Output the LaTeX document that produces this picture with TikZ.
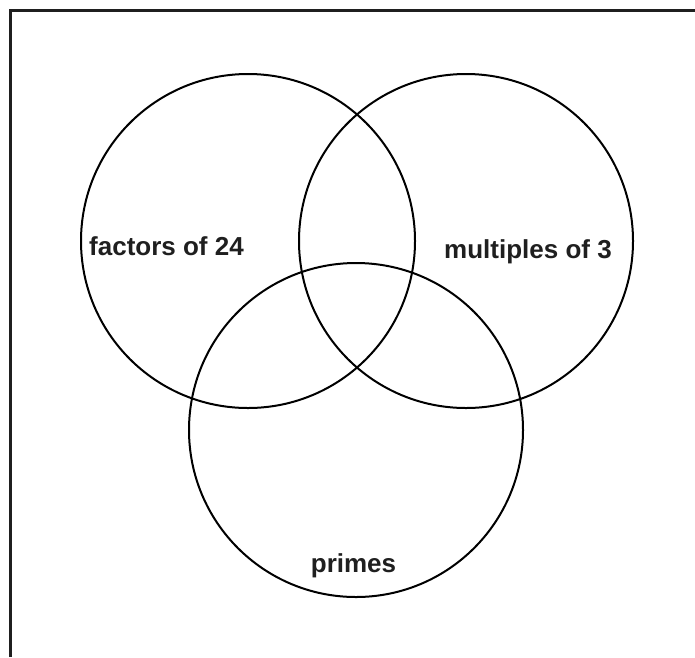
\documentclass[tikz,border=0pt]{standalone}
\usepackage{fontspec}
\setmainfont{Liberation Sans}
\begin{document}
\begin{tikzpicture}[x=1pt,y=-1pt,
  venn/.style={circle, draw=black, line width=2pt, minimum size=334pt, inner sep=0pt},
  lbl/.style={anchor=base, font=\fontsize{26}{30}\selectfont\bfseries, text=black!88, inner sep=0pt},
  frameline/.style={draw=black!88, line width=3pt}]
\useasboundingbox (0,0) rectangle (695,657);
\fill[white] (0,0) rectangle (695,657);
\coordinate (fbl) at (10.5,657);
\coordinate (ftl) at (10.5,10.5);
\coordinate (ftr) at (695,10.5);
\draw[frameline] (fbl) -- (ftl) -- (ftr);
\node[venn] (A) at (248,241) {};
\node[venn] (B) at (466,241) {};
\node[venn] (C) at (356,430) {};
\node[lbl] (la) at (166.5,255) {factors of 24};
\node[lbl] (lb) at (528,258) {multiples of 3};
\node[lbl] (lc) at (353.5,572) {primes};
\end{tikzpicture}
\end{document}
